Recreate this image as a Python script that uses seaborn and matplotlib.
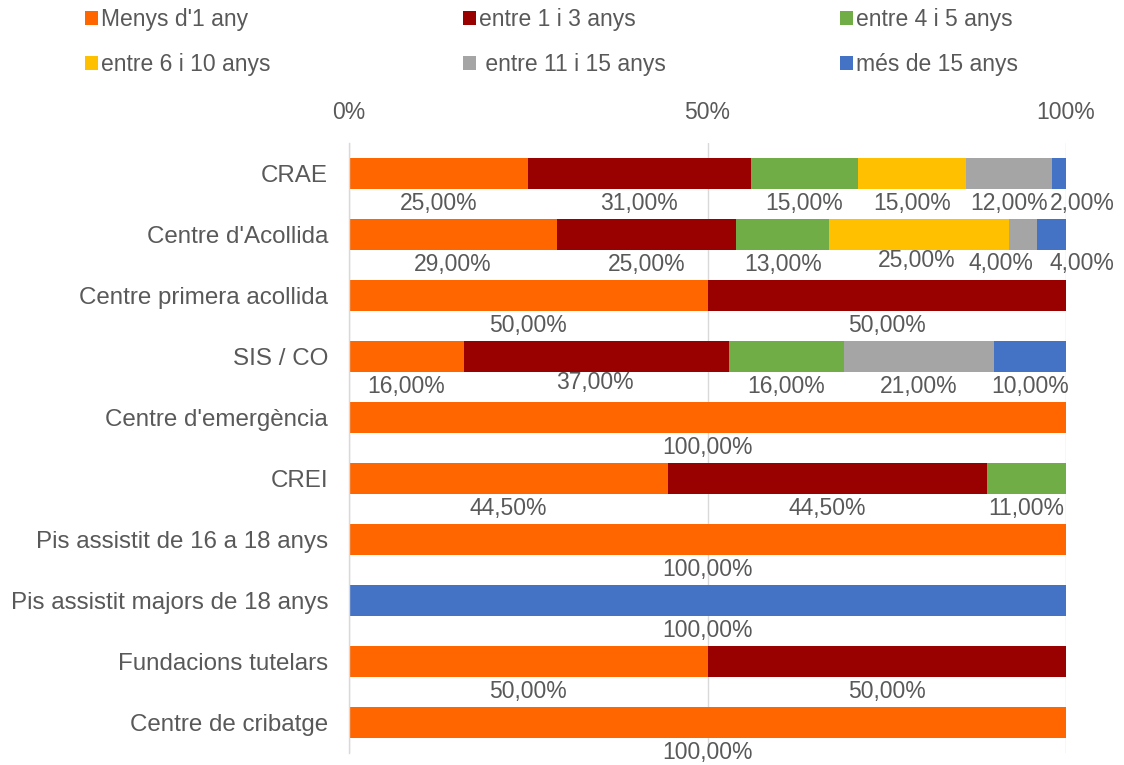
import matplotlib
matplotlib.use("Agg")
import matplotlib.pyplot as plt
from matplotlib.patches import Patch
from matplotlib.ticker import FixedLocator
import numpy as np
import pandas as pd
import seaborn as sns

OUT_PATH = "out.png"

categories = [
    "CRAE",
    "Centre d'Acollida",
    "Centre primera acollida",
    "SIS / CO",
    "Centre d'emergència",
    "CREI",
    "Pis assistit de 16 a 18 anys",
    "Pis assistit majors de 18 anys",
    "Fundacions tutelars",
    "Centre de cribatge",
]
series_names = [
    "Menys d'1 any",
    "entre 1 i 3 anys",
    "entre 4 i 5 anys",
    "entre 6 i 10 anys",
    " entre 11 i 15 anys",
    "més de 15 anys",
]
menys_1 = [25.0, 29.0, 50.0, 16.0, 100.0, 44.5, 100.0, 0.0, 50.0, 100.0]
entre_1_3 = [31.0, 25.0, 50.0, 37.0, 0.0, 44.5, 0.0, 0.0, 50.0, 0.0]
entre_4_5 = [15.0, 13.0, 0.0, 16.0, 0.0, 11.0, 0.0, 0.0, 0.0, 0.0]
entre_6_10 = [15.0, 25.0, 0.0, 0.0, 0.0, 0.0, 0.0, 0.0, 0.0, 0.0]
entre_11_15 = [12.0, 4.0, 0.0, 21.0, 0.0, 0.0, 0.0, 0.0, 0.0, 0.0]
mes_15 = [2.0, 4.0, 0.0, 10.0, 0.0, 0.0, 0.0, 100.0, 0.0, 0.0]
xtick_values = [0, 50, 100]
xtick_labels = ["0%", "50%", "100%"]

colors = ["#FF6600", "#990000", "#70AD47", "#FFC000", "#A5A5A5", "#4472C4"]
TEXT = "#595959"
GRID = "#D9D9D9"
FS = 16.5
FS_CAT = 17.4

# label nudges (points) where Excel moved labels to avoid overlap
nudges = {
    (0, 5): (17, 0),
    (1, 3): (-2, 3),
    (1, 4): (-16, 1),
    (1, 5): (22, 1),
    (3, 1): (-1, 3),
}

sns.set_theme(style="white")
plt.rcParams["font.family"] = ["Liberation Sans", "DejaVu Sans"]

values = np.array([menys_1, entre_1_3, entre_4_5, entre_6_10, entre_11_15, mes_15])
cum = np.cumsum(values, axis=0)

fig = plt.figure(figsize=(11.24, 7.65), dpi=100)
ax = fig.add_axes([349 / 1124, 1 - 753 / 765, 717 / 1124, 610 / 765])

# stacked bars: draw cumulative totals from the last series backwards
for k in range(len(series_names) - 1, -1, -1):
    df = pd.DataFrame({"cat": categories, "val": cum[k]})
    sns.barplot(data=df, y="cat", x="val", order=categories, orient="h",
                color=colors[k], width=0.5, linewidth=0, saturation=1, ax=ax,
                zorder=2)

# value labels under each segment
for k in range(len(series_names)):
    for i in range(len(categories)):
        v = values[k, i]
        if v <= 0:
            continue
        xc = cum[k, i] - v / 2
        dx, dy = nudges.get((i, k), (0, 0))
        ax.annotate(f"{v:.2f}".replace(".", ",") + "%", xy=(xc, i + 0.49),
                    xytext=(dx, dy), textcoords="offset points",
                    ha="center", va="center", fontsize=FS, color=TEXT,
                    annotation_clip=False, zorder=3)

ax.set_xlim(0, 100)
ax.set_ylim(len(categories) - 0.5, -0.5)
ax.xaxis.tick_top()
ax.set_xticks(xtick_values)
ax.set_xticklabels(xtick_labels)
ax.tick_params(axis="x", length=0, pad=14, labelsize=FS, labelcolor=TEXT)
ax.tick_params(axis="y", which="major", length=0, pad=15, labelsize=FS_CAT,
               labelcolor=TEXT)
ax.yaxis.set_minor_locator(FixedLocator(np.arange(-0.5, len(categories), 1)))
ax.tick_params(axis="y", which="minor", length=5, width=1, color=GRID,
               direction="out")
ax.set_xlabel("")
ax.set_ylabel("")
ax.grid(axis="x", color=GRID, linewidth=1, zorder=0)
ax.set_axisbelow(True)
for side in ["top", "right", "bottom"]:
    ax.spines[side].set_visible(False)
ax.spines["left"].set_color(GRID)
ax.spines["left"].set_linewidth(1)

# legend: three columns, two rows (row 1: series 0-2, row 2: series 3-5)
col_x = [83 / 1124, 461 / 1124, 838 / 1124]
for c in range(3):
    idx = [c, c + 3]
    handles = [Patch(facecolor=colors[j], edgecolor="none") for j in idx]
    labels = [series_names[j] for j in idx]
    fig.legend(handles, labels, loc="upper left",
               bbox_to_anchor=(col_x[c], 1 - 6 / 765), frameon=False,
               fontsize=FS, labelcolor=TEXT, borderpad=0.1,
               handlelength=0.55, handleheight=0.55, handletextpad=0.15,
               labelspacing=0.95, borderaxespad=0)

fig.savefig(OUT_PATH, dpi=100)
plt.close(fig)
